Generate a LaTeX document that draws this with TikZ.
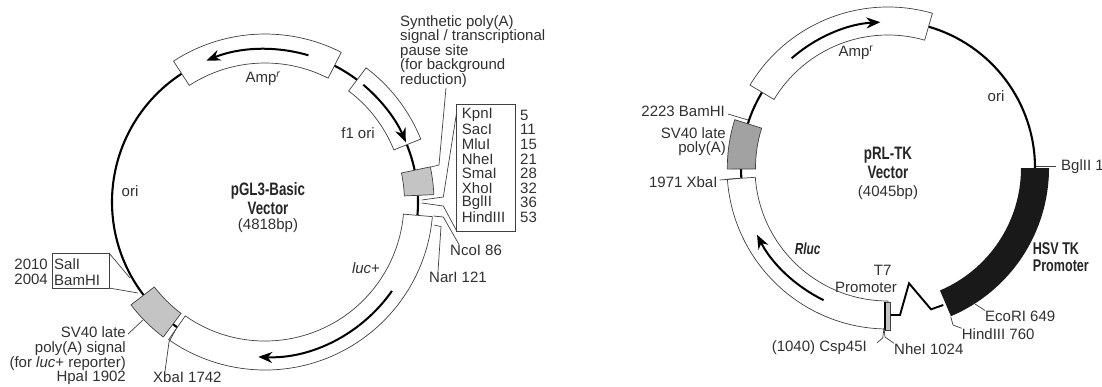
\documentclass[tikz,border=0pt]{standalone}
\usepackage{fontspec}
\setmainfont{Liberation Sans}
\newfontfamily\narrowfont{Liberation Sans}[FakeStretch=0.74]
\usetikzlibrary{arrows.meta}
\definecolor{textgray}{HTML}{303030}
\definecolor{boxgray}{HTML}{C4C4C4}
\definecolor{darkgray}{HTML}{A2A2A2}
\tikzset{
  label/.style={inner sep=0pt, text=textgray, font=\fontsize{15}{14.6}\selectfont},
  title/.style={inner sep=0pt, text=black!85, font=\fontsize{18}{17}\narrowfont\bfseries},
  leader/.style={line width=0.7pt, draw=black!75},
  backbone/.style={line width=2.1pt, black},
  sense/.style={line width=2pt, -{Stealth[length=14pt,width=11pt]}},
  band/.style={line width=0.7pt, draw=black!75, fill=white}
}
\begin{document}
\begin{tikzpicture}[x=1pt, y=-1pt, line cap=butt, line join=miter]
  \useasboundingbox (0,0) rectangle (1102,386);
  % pGL3-Basic
  \begin{scope}[shift={(265,202)}, y=1pt]
    \foreach \a/\b in {123/217.5, 53/63, 12/22, -5/2.5, -127/-125} {
      \draw[backbone] (\a:153) arc[start angle=\a, end angle=\b, radius=153];
    }
    \foreach \a/\b in {63/123, 22/53, -125/-5} {
      \draw[band] (\a:139) arc[start angle=\a, end angle=\b, radius=139]
        -- (\b:168) arc[start angle=\b, end angle=\a, radius=168] -- cycle;
    }
    \foreach \a/\b in {2.5/12, -142.5/-127} {
      \draw[band, fill=boxgray] (\a:139.5) arc[start angle=\a, end angle=\b, radius=139.5]
        -- (\b:169) arc[start angle=\b, end angle=\a, radius=169] -- cycle;
    }
    \draw[sense] (73.5:153) arc[start angle=73.5, end angle=112.5, radius=153];
    \draw[sense] (50:153) arc[start angle=50, end angle=23, radius=153];
    \draw[sense] (-35:155) arc[start angle=-35, end angle=-92.5, radius=155];
  \end{scope}
  \node[label] (ampleft) at (263,79) {Amp$^{\mathit{r}}$};
  \node[label] (f1ori) at (358,133) {f1 ori};
  \node[label] (orileft) at (130,191) {ori};
  \node[label] (lucplus) at (366,268) {\textit{luc}+};
  \node[title] (pglname) at (268,191) {pGL3-Basic};
  \node[title] (pglvector) at (268,208) {Vector};
  \node[label] (pglsize) at (268,226) {(4818bp)};
  % the site list
  \node[label, align=left, anchor=north west] (synth) at (400,15)
    {Synthetic poly(A)\\signal / transcriptional\\pause site\\(for background\\reduction)};
  \draw[leader] (456.7,104) rectangle (515,231);
  \foreach \n/\s/\y in {kpn/KpnI/115, sac/SacI/129.6, mlu/MluI/144.2, nhe/NheI/158.8,
                        sma/SmaI/173.4, xho/XhoI/188, bgl/BglII/202.6, hind/HindIII/217.2} {
    \node[label, anchor=west] (\n) at (461.7,\y) {\s};
  }
  \foreach \n/\s/\y in {kpnpos/5/115, sacpos/11/129.6, mlupos/15/144.2, nhepos/21/158.8,
                        smapos/28/173.4, xhopos/32/188, bglpos/36/202.6, hindpos/53/217.2} {
    \node[label, anchor=west] (\n) at (520,\y) {\s};
  }
  \node[label, anchor=west] (ncoi) at (450,250) {NcoI 86};
  \node[label, anchor=west] (nari) at (429,277) {NarI 121};
  \draw[leader] (synth.south west) ++(46,0) -- (439,165) -- (431,167);
  \draw[leader] (456.7,112) -- (443.3,197) -- (421.7,200);
  \draw[leader] (456.7,231) -- (443.3,206) -- (421.7,203);
  \draw[leader] ([xshift=9pt]ncoi.north west) -- (443.3,217) -- (433.3,216);
  \draw[leader] ([xshift=9pt]nari.north west) -- (441,226.7) -- (434.3,225);
  % the lower left sites
  \draw[leader] (52,253) rectangle (109,288);
  \draw[leader] (109,253) -- (130,278);
  \draw[leader] (109,288) -- (138,293);
  \foreach \n/\s/\y in {sali/SalI/264, bamhi/BamHI/280} {
    \node[label, anchor=west] (\n) at (54,\y) {\s};
  }
  \foreach \n/\s/\y in {salpos/2010/264, bampos/2004/279} {
    \node[label, anchor=east] (\n) at (48,\y) {\s};
  }
  \node[label, align=right, anchor=east] (svleft) at (126,356)
    {SV40 late\hspace{4pt}\\poly(A) signal\\(for \textit{luc}+ reporter)\\HpaI 1902\hspace{4pt}};
  \node[label, anchor=west] (xbaleft) at (153,377) {XbaI 1742};
  \draw[leader] (128,334) -- (143,320);
  \draw[leader] ([xshift=12pt]xbaleft.north west) -- (169,342) -- (176,329);
  % pRL-TK
  \begin{scope}[shift={(888,168)}, y=1pt]
    \foreach \a/\b in {0/74, 149/162.5, 180.4/184} {
      \draw[backbone] (\a:147) arc[start angle=\a, end angle=\b, radius=147];
    }
    \foreach \a/\b in {74/149, 184/270} {
      \draw[band] (\a:133) arc[start angle=\a, end angle=\b, radius=133]
        -- (\b:161) arc[start angle=\b, end angle=\a, radius=161] -- cycle;
    }
    \draw[band, fill=darkgray] (162.5:132.5) arc[start angle=162.5, end angle=180.4, radius=132.5]
      -- (180.4:160.7) arc[start angle=180.4, end angle=162.5, radius=160.7] -- cycle;
    \fill[black!90] (0:133) arc[start angle=0, end angle=-67, radius=133]
      -- (-67:161) arc[start angle=-67, end angle=0, radius=161] -- cycle;
    \draw[sense] (131.3:146) arc[start angle=131.3, end angle=93, radius=146];
    \draw[sense] (244:147) arc[start angle=244, end angle=207, radius=147];
  \end{scope}
  \draw[band, fill=boxgray] (885,302) rectangle (890.7,330);
  \draw[line width=1.2pt] (885,302) -- (885,330);
  \draw[line width=1.9pt] (943.3,305) -- (931,309.3) -- (909,283.3) -- (900,315) -- (890.7,315);
  \node[label] (ampright) at (856,53) {Amp$^{\mathrm{r}}$};
  \node[label] (oriright) at (996,96) {ori};
  \node[title] (prlname) at (888,155) {pRL-TK};
  \node[title] (prlvector) at (888,172) {Vector};
  \node[label] (prlsize) at (888,193) {(4045bp)};
  \node[title, anchor=west, align=left, font=\fontsize{17}{17}\narrowfont\bfseries] (hsvtk) at (1032.7,257.5) {HSV TK\\Promoter};
  \node[title, font=\fontsize{16}{15}\narrowfont\bfseries\itshape] (rluc) at (807.7,249) {Rluc};
  \node[label] (tseven) at (882.7,270) {T7};
  \node[label] (tpromoter) at (866,287) {Promoter};
  \node[label, anchor=west] (bglright) at (1061,167) {BglII 1};
  \node[label, anchor=west] (ecori) at (985,316) {EcoRI 649};
  \node[label, anchor=west] (hindright) at (961.7,334) {HindIII 760};
  \node[label, anchor=west] (nheright) at (894,349) {NheI 1024};
  \node[label, anchor=east] (cspright) at (867,348) {(1040) Csp45I};
  \node[label, anchor=east] (bamright) at (725,111) {2223 BamHI};
  \node[label, align=right, anchor=east] (svright) at (726,141.5) {SV40 late\\poly(A)};
  \node[label, anchor=east] (xbaright) at (717.7,182) {1971 XbaI};
  \draw[leader] (bglright.west) ++(-5,-1) -- (1036,166);
  \draw[leader] (ecori.north west) -- (975,304);
  \draw[leader] (hindright.north west) -- (953,325) -- (950.7,316.7);
  \draw[leader] (nheright.north west) -- (885,337) -- (884,328);
  \draw[leader] (cspright.north east) ++(10,2) -- (882.7,338) -- (884,328);
  \draw[leader] (bamright.east) ++(3,3) -- (748,120);
  \draw[leader] (xbaright.east) ++(2,-2) -- (740,178.3);
\end{tikzpicture}
\end{document}
